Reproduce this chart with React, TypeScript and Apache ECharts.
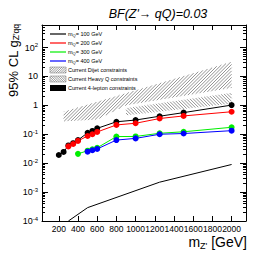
import React, { useEffect, useRef } from 'react';
import * as echarts from 'echarts';

// ---- data ----
const massQ100 = [200, 250, 300, 350, 400, 500, 550, 600, 800, 1000, 1250, 1500, 2000];
const gQ100 = [0.0192, 0.0244, 0.041, 0.049, 0.063, 0.112, 0.13, 0.16, 0.27, 0.31, 0.42, 0.56, 1.02];
const massQ200 = [300, 350, 400, 500, 550, 600, 800, 1000, 1250, 1500, 2000];
const gQ200 = [0.038, 0.046, 0.059, 0.087, 0.1, 0.12, 0.21, 0.24, 0.35, 0.43, 0.6];
const massQ300 = [400, 500, 550, 600, 800, 1000, 1250, 1500, 2000];
const gQ300 = [0.021, 0.027, 0.03, 0.034, 0.083, 0.084, 0.108, 0.122, 0.174];
const massQ400 = [500, 550, 600, 800, 1000, 1250, 1500, 2000];
const gQ400 = [0.025, 0.028, 0.031, 0.063, 0.072, 0.1, 0.106, 0.133];
const leptonMass = [300, 500, 1250, 2000];
const leptonG = [0.0001, 0.00029, 0.0022, 0.009];

// Dijet band (upper, "////")
const dijetUpperMass = [250, 2000];
const dijetUpperG = [0.6, 32];
const dijetLowerMass = [250, 600, 900, 2000];
const dijetLowerG = [0.28, 0.32, 1.0, 4];
// Heavy Q band (lower, "\\\\")
const heavyUpperMass = [900, 2000];
const heavyUpperG = [0.8, 2.7];
const heavyLowerMass = [900, 2000];
const heavyLowerG = [0.45, 1.15];

const xTickValues = [200, 400, 600, 800, 1000, 1200, 1400, 1600, 1800, 2000];
const yMajorTicks = [1e-4, 1e-3, 1e-2, 1e-1, 1, 10, 100];
const yMinorTicks: number[] = [];
for (let e = -4; e <= 2; e++) {
  for (let k = 2; k <= 9; k++) {
    const v = k * Math.pow(10, e);
    if (v <= 600) yMinorTicks.push(v);
  }
}

const FONT = 'Liberation Sans, Arial, Helvetica, sans-serif';
const X_MIN = 25;
const X_MAX = 2150;
const Y_MIN = 1e-4;
const Y_MAX = 600;

type Pt = number[];
function hatchLines(poly: Pt[], spacing: number, dir: number): Pt[][] {
  const f = (p: Pt) => p[0] + dir * p[1];
  const vals = poly.map(f);
  const lo = Math.min(...vals);
  const hi = Math.max(...vals);
  const step = spacing * Math.SQRT2;
  const segs: Pt[][] = [];
  for (let c = Math.ceil(lo / step) * step; c <= hi; c += step) {
    const pts: Pt[] = [];
    for (let i = 0; i < poly.length; i++) {
      const a = poly[i];
      const b = poly[(i + 1) % poly.length];
      const fa = f(a) - c;
      const fb = f(b) - c;
      if ((fa < 0) !== (fb < 0)) {
        const t = fa / (fa - fb);
        pts.push([a[0] + t * (b[0] - a[0]), a[1] + t * (b[1] - a[1])]);
      }
    }
    pts.sort((p, q) => p[0] - q[0]);
    for (let k = 0; k + 1 < pts.length; k += 2) segs.push([pts[k], pts[k + 1]]);
  }
  return segs;
}

function segsToLines(segs: Pt[][], stroke: string, width: number) {
  return segs.map((s) => ({
    type: 'line',
    shape: { x1: s[0][0], y1: s[0][1], x2: s[1][0], y2: s[1][1] },
    style: { stroke, lineWidth: width },
  }));
}

function bandSeries(upM: number[], upG: number[], loM: number[], loG: number[], dir: number) {
  return {
    type: 'custom',
    clip: true,
    silent: true,
    z: 1,
    data: [[upM[0], upG[0]]],
    renderItem: (_params: any, api: any) => {
      const upper = upM.map((m, i) => api.coord([m, upG[i]]));
      const lower = loM.map((m, i) => api.coord([m, loG[i]])).reverse();
      const poly = [...upper, ...lower];
      return {
        type: 'group',
        children: segsToLines(hatchLines(poly, 2.3, dir), '#666', 0.7),
      };
    },
  };
}

function yLabel(v: number) {
  const e = Math.round(Math.log10(v));
  if (e === 0) return '1';
  if (e === 1) return '10';
  return '10{sup|' + e + '}';
}

function legendGraphics() {
  const items: any[] = [];
  const x0 = 50;
  const x1 = 66;
  const tx = 68;
  const lineEntries = [
    { c: '#000000', t: '100' },
    { c: '#ff0000', t: '200' },
    { c: '#00ee00', t: '300' },
    { c: '#0000ff', t: '400' },
  ];
  const ys = [34, 43, 52, 61, 70, 79, 88];
  const txtStyle = (text: string, y: number) => ({
    type: 'text',
    x: tx,
    y,
    style: {
      text,
      fontFamily: FONT,
      fontSize: 5.5,
      fill: '#000',
      textVerticalAlign: 'middle',
      verticalAlign: 'middle',
      rich: { sub: { fontSize: 4, fontFamily: FONT, verticalAlign: 'bottom', lineHeight: 4 } },
    },
  });
  lineEntries.forEach((e, i) => {
    items.push({
      type: 'line',
      shape: { x1: x0, y1: ys[i], x2: x1, y2: ys[i] },
      style: { stroke: e.c, lineWidth: 1.2 },
    });
    items.push(txtStyle('m{sub|Q}= ' + e.t + ' GeV', ys[i]));
  });
  const boxes = [
    { t: 'Current Dijet constraints', dir: 1 },
    { t: 'Current Heavy Q constraints', dir: -1 },
    { t: 'Current 4-lepton constraints', dir: 0 },
  ];
  boxes.forEach((b, j) => {
    const y = ys[4 + j];
    const top = y - 3;
    const bot = y + 3;
    if (b.dir === 0) {
      items.push({ type: 'rect', shape: { x: x0, y: top, width: x1 - x0, height: bot - top }, style: { fill: '#000' } });
    } else {
      const poly = [[x0, top], [x1, top], [x1, bot], [x0, bot]];
      segsToLines(hatchLines(poly, 1.6, b.dir), '#555', 0.6).forEach((l) => items.push(l));
      items.push({ type: 'rect', shape: { x: x0, y: top, width: x1 - x0, height: bot - top }, style: { fill: 'none', stroke: '#777', lineWidth: 0.5 } });
    }
    items.push(txtStyle(b.t, y));
  });
  return items;
}

export default function App() {
  const ref = useRef<HTMLDivElement>(null);
  useEffect(() => {
    if (!ref.current) return;
    const chart = echarts.init(ref.current, undefined, { renderer: 'svg' });
    const lineSeries = (name: string, xs: number[], ys: number[], color: string) => ({
      name,
      type: 'line',
      data: xs.map((x, i) => [x, ys[i]]),
      symbol: 'circle',
      symbolSize: 6,
      itemStyle: { color },
      lineStyle: { color, width: 1 },
      z: 3,
    });
    const yAxisBase = {
      type: 'log',
      min: Y_MIN,
      max: Y_MAX,
      logBase: 10,
      splitLine: { show: false },
      minorTick: { show: false },
    };
    const option: any = {
      animation: false,
      backgroundColor: '#fff',
      grid: { left: 42, right: 31, top: 25, bottom: 39, containLabel: false },
      xAxis: [
        {
          type: 'value',
          min: X_MIN,
          max: X_MAX,
          position: 'bottom',
          axisLine: { show: true, onZero: false, lineStyle: { color: '#000', width: 1 } },
          axisTick: { show: true, inside: true, length: 5, customValues: xTickValues, lineStyle: { color: '#000' } },
          axisLabel: {
            show: true,
            customValues: xTickValues,
            formatter: (v: number) => String(v),
            margin: 3,
            color: '#000',
            fontFamily: FONT,
            fontSize: 8.5,
            hideOverlap: false,
          },
          splitLine: { show: false },
        },
        {
          type: 'value',
          min: X_MIN,
          max: X_MAX,
          position: 'top',
          axisLine: { show: true, onZero: false, lineStyle: { color: '#000', width: 1 } },
          axisTick: { show: true, inside: true, length: 5, customValues: xTickValues, lineStyle: { color: '#000' } },
          axisLabel: { show: false },
          splitLine: { show: false },
        },
      ],
      yAxis: [
        {
          ...yAxisBase,
          position: 'left',
          axisLine: { show: true, onZero: false, lineStyle: { color: '#000', width: 1 } },
          axisTick: { show: true, inside: true, length: 6, customValues: yMajorTicks, lineStyle: { color: '#000' } },
          axisLabel: {
            show: true,
            customValues: yMajorTicks,
            formatter: yLabel,
            margin: 4,
            color: '#000',
            fontFamily: FONT,
            fontSize: 9,
            lineHeight: 11,
            rich: { sup: { fontSize: 6, lineHeight: 6, verticalAlign: 'top', fontFamily: FONT, color: '#000' } },
          },
        },
        {
          ...yAxisBase,
          position: 'left',
          axisLine: { show: false },
          axisTick: { show: true, inside: true, length: 3, customValues: yMinorTicks, lineStyle: { color: '#000' } },
          axisLabel: { show: false },
        },
        {
          ...yAxisBase,
          position: 'right',
          axisLine: { show: true, onZero: false, lineStyle: { color: '#000', width: 1 } },
          axisTick: { show: true, inside: true, length: 6, customValues: yMajorTicks, lineStyle: { color: '#000' } },
          axisLabel: { show: false },
        },
        {
          ...yAxisBase,
          position: 'right',
          axisLine: { show: false },
          axisTick: { show: true, inside: true, length: 3, customValues: yMinorTicks, lineStyle: { color: '#000' } },
          axisLabel: { show: false },
        },
      ],
      series: [
        bandSeries(dijetUpperMass, dijetUpperG, dijetLowerMass, dijetLowerG, 1),
        bandSeries(heavyUpperMass, heavyUpperG, heavyLowerMass, heavyLowerG, -1),
        {
          name: '4-lepton',
          type: 'line',
          data: leptonMass.map((x, i) => [x, leptonG[i]]),
          symbol: 'none',
          lineStyle: { color: '#000', width: 1 },
          z: 2,
        },
        lineSeries('mQ=100 GeV', massQ100, gQ100, '#000000'),
        lineSeries('mQ=200 GeV', massQ200, gQ200, '#ff0000'),
        lineSeries('mQ=300 GeV', massQ300, gQ300, '#00ee00'),
        lineSeries('mQ=400 GeV', massQ400, gQ400, '#0000ff'),
      ],
      graphic: [
        {
          type: 'text',
          x: 158,
          y: 14,
          style: {
            text: "BF(Z'\u2192 qQ)=0.03",
            fontFamily: FONT,
            fontSize: 12.5,
            fontStyle: 'italic',
            fill: '#000',
            textAlign: 'center',
            align: 'center',
            textVerticalAlign: 'middle',
            verticalAlign: 'middle',
          },
        },
        {
          type: 'text',
          x: 13,
          y: 24,
          rotation: Math.PI / 2,
          style: {
            text: "95% CL g{sub|Z'qq}",
            fontFamily: FONT,
            fontSize: 13,
            lineHeight: 15,
            fill: '#000',
            textAlign: 'right',
            align: 'right',
            textVerticalAlign: 'middle',
            verticalAlign: 'middle',
            rich: { sub: { fontSize: 8.5, lineHeight: 8.5, verticalAlign: 'bottom', fontFamily: FONT } },
          },
        },
        {
          type: 'text',
          x: 247,
          y: 242,
          style: {
            text: "m{sub|Z'} [GeV]",
            fontFamily: FONT,
            fontSize: 14,
            lineHeight: 16,
            fill: '#000',
            textAlign: 'right',
            align: 'right',
            textVerticalAlign: 'middle',
            verticalAlign: 'middle',
            rich: { sub: { fontSize: 9, lineHeight: 9, verticalAlign: 'bottom', fontFamily: FONT } },
          },
        },
        ...legendGraphics(),
      ],
    };
    chart.setOption(option);
    return () => chart.dispose();
  }, []);
  return <div ref={ref} style={{ position: 'absolute', left: 0, top: 0, width: 277, height: 260 }} />;
}
